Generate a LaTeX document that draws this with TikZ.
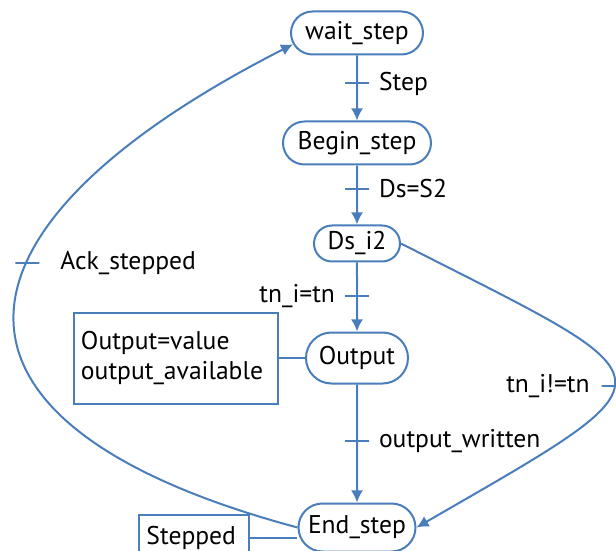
\documentclass[tikz,border=0pt]{standalone}
\usepackage{fontspec}
\setmainfont{PT Sans}
\usetikzlibrary{
  arrows.meta,
  positioning,
  shapes.misc
}
\definecolor{azul}{RGB}{74,126,187}

\begin{document}
\begin{tikzpicture}[
x=1pt,y=1pt,
font=\fontsize{12.8}{15}\selectfont,
estado/.style={
draw=azul,
rounded rectangle,
line width=1pt,
minimum width=62pt,
minimum height=22pt,
inner sep=2pt
},
caixa/.style={
draw=azul,
line width=1pt,
inner sep=3.5pt,
align=left
},
marca/.style={
draw=azul,
line width=1pt,
minimum width=12pt,
minimum height=0pt,
inner sep=0pt
},
rotulo/.style={inner sep=1pt},
linha/.style={draw=azul,line width=1pt},
seta/.style={-{Latex[length=6pt,width=6pt]},draw=azul,line width=1pt}
]

\path[use as bounding box,clip] (-178.5,16.5) rectangle (129.5,-259);

\node[estado,minimum width=70pt,minimum height=21.5pt] (wait) at (0,0) {wait\_step};

\node[estado,below=32.5pt of wait,minimum width=78pt,minimum height=21.5pt] (beginstep)
{Begin\_step};

\node[estado,below=29.5pt of beginstep,minimum width=47pt,minimum height=18pt] (dsi)
{Ds\_i2};

\node[estado,below=34.5pt of dsi,minimum width=55pt,minimum height=25.5pt] (output)
{Output};

\node[estado,below=59pt of output,minimum width=62.5pt,minimum height=24pt] (endstep)
{End\_step};

\node[caixa,left=13pt of output,text width=95pt,minimum height=45.5pt] (acao)
{Output=value\\output\_available};

\node[caixa,left=23.5pt of endstep,yshift=-5pt,text width=48pt,minimum height=23pt] (stepped)
{Stepped};

\draw[seta] (wait) -- node[pos=.43,marca]{} node[pos=.43,rotulo,right=9.5pt]{Step} (beginstep);
\draw[seta] (beginstep) -- node[pos=.39,marca]{} node[pos=.39,rotulo,right=9.5pt]{Ds=S2} (dsi);
\draw[seta] (dsi) -- node[pos=.49,marca]{} node[pos=.49,rotulo,left=9.5pt]{tn\_i=tn} (output);
\draw[seta] (output) -- node[pos=.48,marca]{} node[pos=.48,rotulo,right=9.5pt]{output\_written} (endstep);

\draw[seta] (endstep.west) to[out=165,in=207,looseness=2.13]
  node[pos=.6,marca]{} node[pos=.6,rotulo,right=15pt]{Ack\_stepped} (wait.190);
\draw[seta] (dsi.east) to[out=-27,in=30,looseness=2.8]
  node[pos=.53,marca]{} node[pos=.53,rotulo,left=10.5pt]{tn\_i!=tn} (endstep.east);

\draw[linha] (acao) -- (output);
\draw[linha] (stepped.east) -- (stepped.east -| endstep.west);

\end{tikzpicture}
\end{document}
